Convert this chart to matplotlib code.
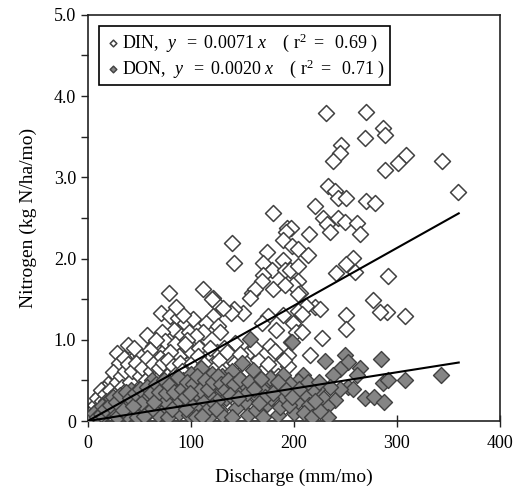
import matplotlib
matplotlib.use("Agg")
import matplotlib.pyplot as plt
import numpy as np

plt.rcParams['font.family'] = ['Liberation Serif', 'DejaVu Serif']
plt.rcParams['mathtext.fontset'] = 'custom'
plt.rcParams['mathtext.rm'] = 'Liberation Serif'
plt.rcParams['mathtext.it'] = 'Liberation Serif:italic'

# DIN points (discharge mm/mo, nitrogen kg N/ha/mo)
din_x = [230.7, 270, 286.7, 288, 269, 245.6, 244.7, 238, 308.7, 300.6, 288.7, 343.4, 359, 232.7, 239.8,
         243, 251, 269.6, 278.6, 220.4, 180, 228.5, 243, 250, 260.8, 231.7, 235, 264, 193, 197, 192, 215,
         139.5, 189.6, 198.4, 204, 173.5, 214, 141.7, 169.6, 189.6, 179, 191, 196, 204, 170, 168.6, 204,
         180, 199, 205.8, 257.6, 250.5, 259, 240.8, 291.6, 277, 290, 283.5, 307.8, 251, 251, 227, 220, 225,
         112, 121.7, 124, 159, 162, 191, 204, 212, 175, 168.6, 183, 199, 202, 208, 215.5, 194.5, 150.8,
         142, 139, 131, 121.7, 115, 126, 112, 128, 142.7, 157, 177, 182, 165, 171.5, 183, 194.5, 115, 125,
         134, 128, 141, 122, 204, 208, 189, 157, 120, 196.8,
         105, 108, 118, 132, 138, 146, 152, 160, 165, 110, 100, 140,
         78.6, 70.9, 79.6, 87.7, 94, 102, 83.8, 71.5, 57, 39, 27.8, 44, 63.4, 75, 64.6, 29.4, 37, 19.7, 48,
         54, 74.8, 90, 98, 85, 95, 88, 80, 70, 60, 52, 45, 50, 58, 66, 72, 82, 90, 100, 92, 84, 76, 68, 62,
         55, 46, 40, 34, 30, 25, 22, 15, 12, 8, 5, 3, 10, 18, 26, 35, 42, 50, 58, 65, 72, 80, 88, 96, 104,
         20, 16, 30, 35, 24, 40, 45, 100, 105, 108, 96, 92, 86, 66, 60, 1, 2, 6, 12,
         4, 7, 9, 11, 13, 14, 17, 19, 21, 23, 27, 28, 31, 32, 33, 36, 38, 39, 41, 43, 44, 47, 49, 51, 53,
         56, 57, 59, 61, 63, 64, 67, 69, 71, 73, 74, 77, 78, 81, 83, 86, 87, 89, 91, 93, 94, 97, 99, 101,
         103, 106, 107, 109, 111, 113, 116, 119, 123, 127, 130, 135, 137, 143, 148, 155, 162, 168, 175, 185, 190]
din_y = [3.79, 3.80, 3.61, 3.52, 3.48, 3.40, 3.30, 3.20, 3.27, 3.18, 3.09, 3.20, 2.82, 2.89, 2.83,
         2.74, 2.75, 2.71, 2.68, 2.65, 2.56, 2.50, 2.50, 2.45, 2.44, 2.42, 2.33, 2.30, 2.38, 2.38, 2.33, 2.30,
         2.19, 2.23, 2.16, 2.12, 2.08, 2.04, 1.95, 1.94, 1.98, 1.86, 1.86, 1.86, 1.91, 1.80, 1.72, 1.72,
         1.63, 1.68, 1.58, 2.01, 1.93, 1.84, 1.82, 1.79, 1.49, 1.34, 1.34, 1.29, 1.31, 1.13, 1.02, 1.40, 1.38,
         1.62, 1.51, 1.45, 1.58, 1.62, 1.68, 1.56, 1.41, 1.29, 1.21, 1.12, 1.21, 1.10, 1.09, 0.81, 0.81, 1.33,
         1.38, 1.33, 1.39, 1.29, 1.21, 1.17, 1.09, 1.09, 0.96, 0.86, 0.92, 0.86, 0.75, 0.64, 0.66, 0.68, 0.81, 0.85,
         0.67, 0.57, 0.53, 0.44, 1.36, 1.32, 1.30, 1.51, 1.50, 0.97,
         0.95, 0.72, 0.62, 0.90, 0.78, 0.62, 0.48, 0.42, 0.55, 0.35, 0.45, 0.30,
         1.57, 1.33, 1.29, 1.27, 1.21, 1.25, 1.12, 1.09, 1.06, 0.94, 0.84, 0.76, 0.92, 0.99, 0.79, 0.63, 0.57, 0.36, 0.61,
         0.53, 0.66, 1.05, 1.10, 0.95, 0.88, 0.80, 0.85, 0.78, 0.70, 0.80, 0.90, 0.68, 0.60, 0.58, 0.50, 0.62, 0.55, 0.60, 0.42, 0.45, 0.38, 0.40, 0.48,
         0.42, 0.45, 0.50, 0.46, 0.40, 0.50, 0.30, 0.28, 0.20, 0.15, 0.08, 0.04, 0.10, 0.18, 0.25, 0.30, 0.35, 0.30, 0.28, 0.25, 0.22, 0.28, 0.32, 0.25, 0.30,
         0.45, 0.40, 0.72, 0.78, 0.60, 0.65, 0.55, 0.85, 1.05, 0.90, 1.00, 1.30, 1.40, 1.00, 0.88, 0.01, 0.03, 0.05, 0.32,
         0.12, 0.20, 0.28, 0.15, 0.38, 0.25, 0.33, 0.22, 0.38, 0.18, 0.35, 0.48, 0.28, 0.55, 0.42, 0.62, 0.40, 0.70, 0.48, 0.62, 0.28, 0.72, 0.40, 0.55, 0.65,
         0.50, 0.78, 0.38, 0.62, 0.70, 0.32, 0.52, 0.65, 0.40, 0.72, 0.30, 0.55, 0.75, 0.45, 0.68, 0.58, 0.35, 0.72, 0.62, 0.48, 0.95, 0.52, 0.38, 0.72,
         0.55, 0.42, 0.80, 0.60, 0.48, 0.70, 0.55, 0.90, 0.65, 0.75, 0.60, 0.85, 0.55, 0.72, 0.82, 0.62, 0.90, 0.48, 0.70, 0.55, 0.75]

# DON points
don_x = [230, 249.5, 252.7, 244.7, 238, 264, 260.8, 284.5, 286.7, 291.6, 307.8, 342.7, 269, 278, 287.7, 240,
         231.7, 233, 252.7, 257.6, 244.7, 235, 227, 222,
         157, 198, 150, 209, 204, 176, 155.6, 184.6, 160.5, 177, 189, 196, 183, 170.5, 151, 137.6, 128, 115,
         118, 134, 153, 173.5, 186.6, 202.6, 212, 219, 144, 163.6, 128, 112,
         215, 200, 190, 165, 145, 125, 105, 108, 100, 95, 90, 85, 80, 75, 70, 65, 60, 55, 50, 45, 40, 35, 30,
         25, 20, 15, 10, 5, 3, 8, 12, 18, 28, 38, 48, 58, 68, 78, 88, 98, 108, 118, 120, 130, 140, 92, 85, 72,
         62, 100, 110, 120, 130, 140, 75, 82, 95, 105, 115, 52, 42, 33, 22, 62, 170, 178, 195, 210, 218, 225,
         2, 6, 9, 13, 14, 17, 21, 24, 27, 31, 34, 37, 41, 44, 46, 51, 54, 57, 61, 64, 66, 69, 74, 76, 79,
         84, 87, 91, 94, 96, 102, 106, 109, 114, 117, 121, 126, 129, 133, 136, 142, 148, 154, 156, 161, 168,
         172, 180, 185, 192, 205, 214, 224, 99, 111, 124, 138, 146, 166, 198, 220]
don_y = [0.74, 0.81, 0.73, 0.64, 0.57, 0.65, 0.57, 0.76, 0.47, 0.51, 0.51, 0.57, 0.28, 0.29, 0.24, 0.26,
         0.19, 0.05, 0.42, 0.39, 0.39, 0.42, 0.30, 0.40,
         1.01, 0.97, 0.72, 0.57, 0.49, 0.45, 0.07, 0.07, 0.63, 0.53, 0.57, 0.45, 0.41, 0.37, 0.41, 0.49, 0.41, 0.45,
         0.32, 0.28, 0.24, 0.21, 0.17, 0.24, 0.32, 0.40, 0.16, 0.14, 0.14, 0.24,
         0.20, 0.10, 0.30, 0.30, 0.35, 0.25, 0.35, 0.50, 0.20, 0.40, 0.30, 0.22, 0.35, 0.15, 0.28, 0.40, 0.20, 0.32, 0.12, 0.25, 0.18, 0.30, 0.10,
         0.20, 0.12, 0.06, 0.08, 0.03, 0.02, 0.12, 0.04, 0.25, 0.05, 0.08, 0.05, 0.10, 0.08, 0.05, 0.10, 0.08, 0.12, 0.05, 0.18, 0.08, 0.05, 0.50, 0.45, 0.42,
         0.50, 0.58, 0.65, 0.58, 0.55, 0.62, 0.25, 0.15, 0.15, 0.05, 0.12, 0.22, 0.38, 0.20, 0.28, 0.15, 0.05, 0.28, 0.20, 0.10, 0.05, 0.12,
         0.05, 0.10, 0.05, 0.09, 0.18, 0.15, 0.20, 0.30, 0.24, 0.32, 0.14, 0.36, 0.28, 0.18, 0.34, 0.40, 0.06, 0.42, 0.34, 0.24, 0.46, 0.36, 0.50, 0.34, 0.44,
         0.36, 0.54, 0.40, 0.30, 0.48, 0.45, 0.55, 0.38, 0.50, 0.40, 0.48, 0.55, 0.45, 0.38, 0.50, 0.45, 0.52, 0.34, 0.48, 0.40, 0.52,
         0.30, 0.35, 0.48, 0.38, 0.40, 0.48, 0.48, 0.35, 0.06, 0.15, 0.32, 0.28, 0.22, 0.30, 0.25]

din_slope = 0.0071
don_slope = 0.0020
fit_x_end = 360

fig = plt.figure(figsize=(5.17, 4.93), dpi=100)
ax = fig.add_axes([0.170, 0.146, 0.797, 0.824])

mk = 66
ax.scatter(din_x, din_y, marker='D', s=mk, facecolor='white', edgecolor='#404040', linewidth=1.1, zorder=2)
ax.scatter(don_x, don_y, marker='D', s=mk, facecolor='#858585', edgecolor='#404040', linewidth=1.0, zorder=3)

fx = np.array([0, fit_x_end])
ax.plot(fx, din_slope * fx, color='black', lw=1.5, zorder=4)
ax.plot(fx, don_slope * fx, color='black', lw=1.5, zorder=4)

ax.set_xlim(0, 400)
ax.set_ylim(0, 5.0)
ax.set_xticks([0, 100, 200, 300, 400])
ax.set_yticks([0, 1, 2, 3, 4, 5])
ax.set_yticklabels(['0', '1.0', '2.0', '3.0', '4.0', '5.0'])
ax.set_yticks(np.arange(0.5, 5, 1.0), minor=True)
ax.tick_params(axis='both', which='both', labelsize=13, color='#222222')
ax.tick_params(axis='y', which='both', direction='out', length=5, width=1)
ax.tick_params(axis='x', which='both', direction='inout', length=8, width=1)
ax.tick_params(axis='x', pad=6)
for sp in ax.spines.values():
    sp.set_linewidth(1.2)
    sp.set_color('#222222')

ax.set_xlabel('Discharge (mm/mo)', fontsize=14, labelpad=12)
ax.set_ylabel('Nitrogen (kg N/ha/mo)', fontsize=14, labelpad=12)

h1 = ax.scatter([], [], marker='D', s=mk, facecolor='white', edgecolor='#404040', linewidth=1.1)
h2 = ax.scatter([], [], marker='D', s=mk, facecolor='#858585', edgecolor='#404040', linewidth=1.0)
lab1 = r'DIN,  $y\ \ =\ 0.0071\ x\ \ \ \ (\ \mathrm{r}^2\ =\ \ 0.69\ )$'
lab2 = r'DON,  $y\ \ =\ 0.0020\ x\ \ \ \ (\ \mathrm{r}^2\ =\ \ 0.71\ )$'
leg = ax.legend([h1, h2], [lab1, lab2], loc='upper left', fontsize=13, frameon=True, fancybox=False,
                edgecolor='black', framealpha=1, handletextpad=0.0, handlelength=1.0, markerscale=0.42,
                borderpad=0.3, labelspacing=0.2, borderaxespad=0.6)
leg.get_frame().set_linewidth(1.2)

fig.savefig('out.png', dpi=100)
